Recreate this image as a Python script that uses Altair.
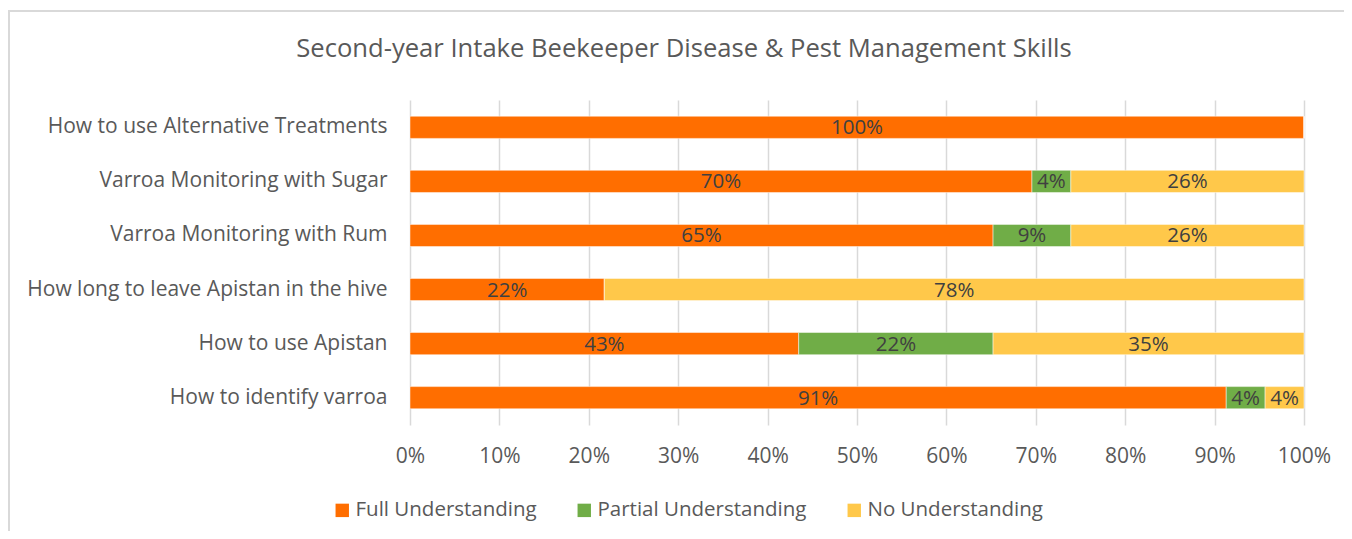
import altair as alt
import pandas as pd

categories = [
    "How to use Alternative Treatments",
    "Varroa Monitoring with Sugar",
    "Varroa Monitoring with Rum",
    "How long to leave Apistan in the hive",
    "How to use Apistan",
    "How to identify varroa",
]
series = ["Full Understanding", "Partial Understanding", "No Understanding"]
full = [100.0, 69.57, 65.22, 21.74, 43.48, 91.30]
partial = [0.0, 4.35, 8.70, 0.0, 21.74, 4.35]
none_ = [0.0, 26.09, 26.09, 78.26, 34.78, 4.35]
colors = ["#FF6E00", "#70AD47", "#FFC84A"]
x_ticks = [0, 10, 20, 30, 40, 50, 60, 70, 80, 90, 100]

rows = []
for i, c in enumerate(categories):
    for j, (s, vals) in enumerate(zip(series, [full, partial, none_])):
        rows.append({"category": c, "series": s, "value": vals[i], "order": j})
df = pd.DataFrame(rows)

FONT = "Open Sans"
TXT = "#595959"
FS = 20.5

base = alt.Chart(df).transform_stack(
    stack="value", groupby=["category"], as_=["x0", "x1"],
    sort=[alt.SortField("order", order="ascending")],
)

yenc = alt.Y("category:N", sort=categories, title=None,
             scale=alt.Scale(paddingInner=0.59, paddingOuter=0.3),
             axis=alt.Axis(labelFont=FONT, labelFontSize=21, labelColor=TXT,
                           labelPadding=23, ticks=False, domain=False,
                           labelLimit=400, minExtent=0, maxExtent=0))

bars = base.mark_bar(stroke="white", strokeWidth=0.8, strokeOpacity=0.6).encode(
    x=alt.X("x0:Q", title=None,
            scale=alt.Scale(domain=[0, 100], nice=False),
            axis=alt.Axis(values=x_ticks, labelExpr="datum.value + '%'",
                          labelFont=FONT, labelFontSize=21, labelColor=TXT,
                          labelPadding=20, ticks=False, domain=False,
                          labelFlush=False, labelOverlap=False,
                          grid=True, gridColor="#D9D9D9", gridWidth=1.5)),
    x2="x1:Q",
    y=yenc,
    color=alt.Color("series:N", sort=series,
                    scale=alt.Scale(domain=series, range=colors),
                    legend=alt.Legend(title=None, orient="none", direction="horizontal",
                                      legendX=-78, legendY=400,
                                      symbolType="square", symbolSize=180,
                                      symbolStrokeWidth=0, symbolOpacity=1,
                                      labelFont=FONT, labelFontSize=FS, labelColor=TXT,
                                      labelOffset=3, columnPadding=37, labelLimit=400)),
)

labels = base.transform_filter("datum.value > 0").transform_calculate(
    mid="(datum.x0 + datum.x1) / 2",
    lbl="format(datum.value, '.0f') + '%'",
).mark_text(font=FONT, fontSize=FS, color="#404040", baseline="middle", align="center", dy=1).encode(
    x="mid:Q",
    y=alt.Y("category:N", sort=categories),
    text="lbl:N",
)

border_left = alt.Chart(df).mark_rule(color="#D9D9D9", strokeWidth=2, clip=False).encode(
    x=alt.value(-401), y=alt.value(-90), y2=alt.value(440))
border_top = alt.Chart(df).mark_rule(color="#D9D9D9", strokeWidth=2, clip=False).encode(
    x=alt.value(-402), x2=alt.value(940), y=alt.value(-89))

chart = alt.layer(border_left, border_top, bars, labels).properties(
    width=894, height=325,
    title=alt.TitleParams("Second-year Intake Beekeeper Disease & Pest Management Skills",
                          font=FONT, fontSize=25.6, fontWeight="normal", color=TXT,
                          anchor="middle", dx=-173, offset=-54),
    autosize=alt.AutoSizeParams(type="none"),
    padding={"left": 402, "top": 92, "right": 40, "bottom": 106},
).configure_view(stroke=None)

chart.save("out.html", embed_options={"renderer": "svg", "actions": False})
